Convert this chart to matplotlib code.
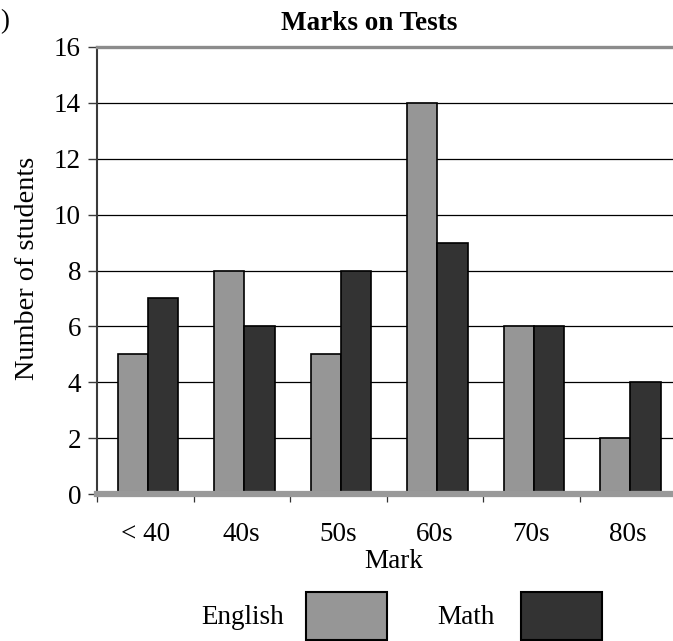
import matplotlib
matplotlib.use("Agg")
import matplotlib.pyplot as plt
from matplotlib.patches import Rectangle
import numpy as np

plt.rcParams['font.family'] = ['Liberation Serif', 'DejaVu Serif']

categories = ["< 40", "40s", "50s", "60s", "70s", "80s"]
english = [5, 8, 5, 14, 6, 2]
math_marks = [7, 6, 8, 9, 6, 4]
series_names = ["English", "Math"]
series_colors = ["#969696", "#333333"]
y_ticks = [0, 2, 4, 6, 8, 10, 12, 14, 16]

FS = 19.5
W, H = 673, 641
fig = plt.figure(figsize=(W / 100, H / 100), dpi=100)

# axes box in pixels: left 97, right 676 (runs slightly past the edge), top 47, bottom 494
left, right, top, bottom = 97, 676, 47, 494
ax = fig.add_axes([left / W, (H - bottom) / H, (right - left) / W, (bottom - top) / H])

x = np.arange(len(categories))
bw = 0.315
ax.bar(x - 0.13, english, width=bw, color=series_colors[0], edgecolor="black",
       linewidth=1.2, zorder=2)
ax.bar(x + 0.185, math_marks, width=bw, color=series_colors[1], edgecolor="black",
       linewidth=1.2, zorder=2)

ax.set_xlim(-0.5, len(categories) - 0.5)
ax.set_ylim(0, 16)

ax.set_yticks(y_ticks)
ax.set_yticklabels([str(v) for v in y_ticks], fontsize=FS)
ax.tick_params(axis="y", direction="out", length=6.5, width=1, color="#3a3a3a", pad=5)

ax.set_xticks(np.arange(len(categories)) - 0.5)
ax.set_xticklabels([])
ax.set_xticks(x, minor=True)
ax.set_xticklabels(categories, minor=True, fontsize=FS)
ax.tick_params(axis="x", which="major", direction="out", length=6, width=0.9, color="#333333")
ax.tick_params(axis="x", which="minor", length=0, pad=20)

ax.yaxis.grid(True, color="black", linewidth=0.9)
ax.set_axisbelow(True)

ax.spines["right"].set_visible(False)
ax.spines["top"].set_color("#8c8c8c")
ax.spines["top"].set_linewidth(2.4)
ax.spines["left"].set_color("#3a3a3a")
ax.spines["left"].set_linewidth(1.5)
ax.spines["bottom"].set_color("#999999")
ax.spines["bottom"].set_linewidth(4.5)

# titles and axis labels
fig.text(369 / W, 1 - 23 / H, "Marks on Tests", ha="center", va="center",
         fontsize=FS, fontweight="bold")
fig.text(394 / W, 1 - 561 / H, "Mark", ha="center", va="center", fontsize=FS)
fig.text(27 / W, 1 - 268 / H, "Number of students", rotation=90,
         ha="center", va="center", fontsize=20.3)
fig.text(0.5 / W, 1 - 22 / H, ")", ha="left", va="center", fontsize=FS)

# legend along the bottom
legend_items = [(243, 306), (466, 521)]
for (tx, bx), name, col in zip(legend_items, series_names, series_colors):
    fig.text(tx / W, 1 - 618 / H, name, ha="center", va="center", fontsize=FS)
    fig.add_artist(Rectangle((bx / W, 1 - 640 / H), 81 / W, 48 / H,
                             transform=fig.transFigure, facecolor=col,
                             edgecolor="black", linewidth=1.5))

fig.savefig("out.png", dpi=100)
